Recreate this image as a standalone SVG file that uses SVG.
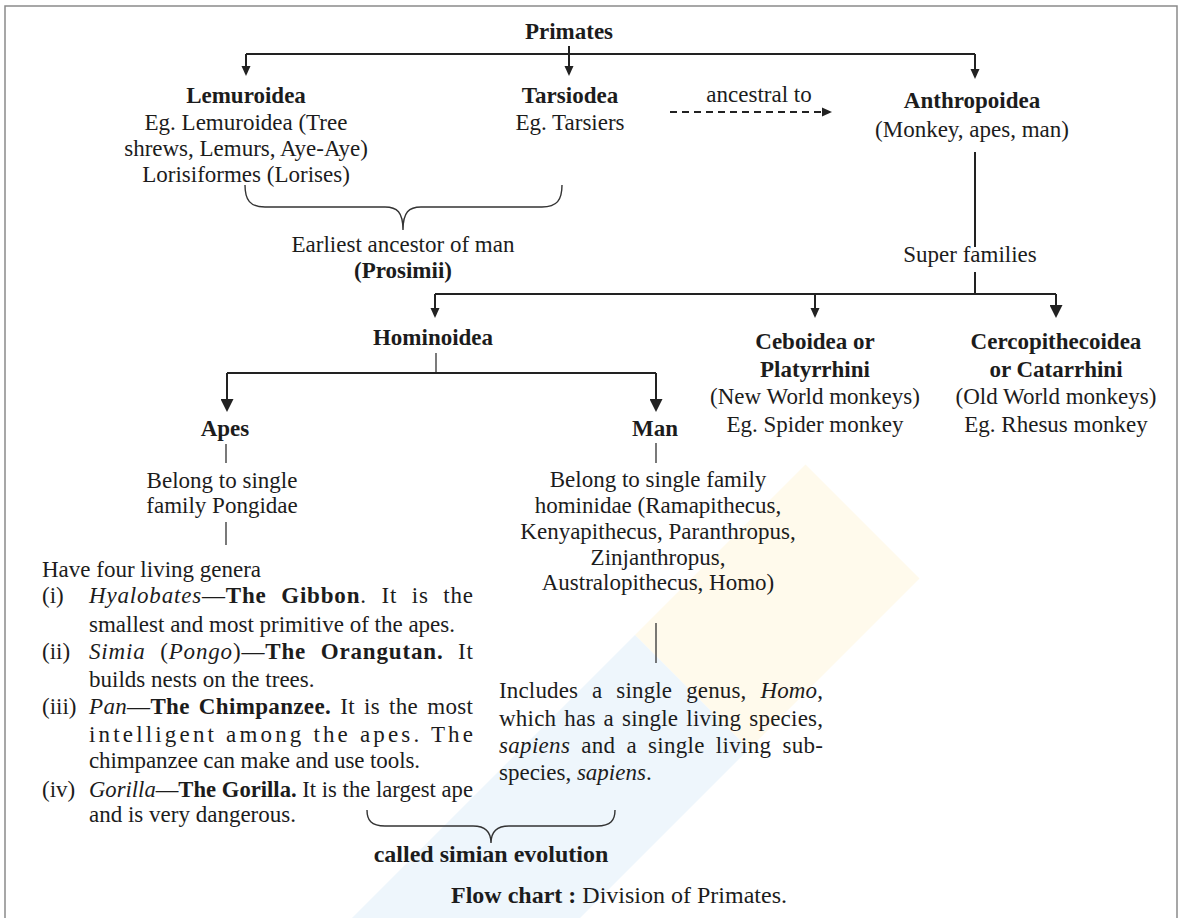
<svg xmlns="http://www.w3.org/2000/svg" width="1180" height="918" viewBox="0 0 1180 918">
<style>
.t{font-family:"Liberation Serif","Times New Roman",serif;font-size:23px;fill:#1c1c1c}
.big{font-family:"Liberation Serif","Times New Roman",serif;font-size:24px;fill:#1c1c1c}
.b{font-weight:bold}
.i{font-style:italic}
.c{text-anchor:middle}
.ln{stroke:#222;stroke-width:2;fill:none}
.thin{stroke:#333;stroke-width:1.3;fill:none}
.br{stroke:#333;stroke-width:1.4;fill:none}
</style>
<defs>
<marker id="a" markerUnits="userSpaceOnUse" markerWidth="10" markerHeight="10" viewBox="0 0 10 10" refX="8" refY="5" orient="auto"><path d="M0,0.5 L10,5 L0,9.5 z" fill="#222"/></marker>
<marker id="A" markerUnits="userSpaceOnUse" markerWidth="13" markerHeight="13" viewBox="0 0 13 13" refX="11" refY="6.5" orient="auto"><path d="M0,0 L13,6.5 L0,13 z" fill="#222"/></marker>
</defs>
<rect width="1180" height="918" fill="#fff"/>
<g id="watermark">
<polygon points="805.5,464.5 919.5,578.5 749,749 635,635" fill="#fffaec"/>
<polygon points="635,635 749,749 399,1099 285,985" fill="#eef6fc"/>
</g>
<path d="M5,930 V6 H1177 V930" fill="none" stroke="#8a8a8a" stroke-width="1.5"/>

<g id="connectors">
<path class="ln" d="M246,54 H975"/>
<path class="ln" d="M246,54 V74" marker-end="url(#a)"/>
<path class="ln" d="M569,46 V74" marker-end="url(#a)"/>
<path class="ln" d="M975,54 V77" marker-end="url(#a)"/>
<path class="ln" d="M670,112 H830" stroke-dasharray="7,5" marker-end="url(#a)"/>
<path class="ln" d="M975,152 V247 M975,272 V294"/>
<path class="ln" d="M435,294 H1056"/>
<path class="ln" d="M435,294 V316" marker-end="url(#a)"/>
<path class="ln" d="M815,294 V316" marker-end="url(#a)"/>
<path class="ln" d="M1056,294 V316" stroke-width="3" marker-end="url(#A)"/>
<path class="thin" d="M436,353 V373"/>
<path class="ln" d="M227,373 H656"/>
<path class="ln" d="M227,373 V410" marker-end="url(#A)"/>
<path class="ln" d="M656,373 V410" marker-end="url(#A)"/>
<path class="thin" d="M226,444 V463 M226,522 V545"/>
<path class="thin" d="M656,443 V463 M656,623 V663"/>
<path class="br" d="M245,185 C245,200 250,207 265,207 L385,207 C397,207 403,212 403,230 C403,212 409,207 421,207 L542,207 C557,207 562,200 562,185"/>
<path class="br" d="M367,810 C367,820 371,826 385,826 L473,826 C485,826 491,831 491,843 C491,831 497,826 509,826 L597,826 C611,826 615,820 615,810"/>
</g>

<g id="primates"><text class="t b c" x="569" y="39">Primates</text></g>

<g id="lemuroidea">
<text class="t b c" x="246" y="103">Lemuroidea</text>
<text class="t c" x="246" y="130">Eg. Lemuroidea (Tree</text>
<text class="t c" x="246" y="156">shrews, Lemurs, Aye-Aye)</text>
<text class="t c" x="246" y="182">Lorisiformes (Lorises)</text>
</g>

<g id="tarsiodea">
<text class="t b c" x="570" y="103">Tarsiodea</text>
<text class="t c" x="570" y="130">Eg. Tarsiers</text>
</g>

<g id="ancestral"><text class="t c" x="759" y="102">ancestral to</text></g>

<g id="anthropoidea">
<text class="t b c" x="972" y="108">Anthropoidea</text>
<text class="t c" x="972" y="137">(Monkey, apes, man)</text>
</g>

<g id="prosimii">
<text class="t c" x="403" y="252">Earliest ancestor of man</text>
<text class="t b c" x="403" y="278">(Prosimii)</text>
</g>

<g id="superfamilies"><text class="t c" x="970" y="262">Super families</text></g>

<g id="hominoidea"><text class="t b c" x="433" y="345">Hominoidea</text></g>

<g id="ceboidea">
<text class="t b c" x="815" y="349">Ceboidea or</text>
<text class="t b c" x="815" y="377">Platyrrhini</text>
<text class="t c" x="815" y="404">(New World monkeys)</text>
<text class="t c" x="815" y="432">Eg. Spider monkey</text>
</g>

<g id="cercopithecoidea">
<text class="t b c" x="1056" y="349">Cercopithecoidea</text>
<text class="t b c" x="1056" y="377">or Catarrhini</text>
<text class="t c" x="1056" y="404">(Old World monkeys)</text>
<text class="t c" x="1056" y="432">Eg. Rhesus monkey</text>
</g>

<g id="apes">
<text class="t b c" x="225" y="436">Apes</text>
<text class="t c" x="222" y="488">Belong to single</text>
<text class="t c" x="222" y="513">family Pongidae</text>
</g>

<g id="genera">
<text class="t" x="42" y="577">Have four living genera</text>
<text class="t" x="42" y="603">(i)</text>
<text class="t" x="89" y="603" word-spacing="8" textLength="384" lengthAdjust="spacing"><tspan class="i">Hyalobates</tspan>—<tspan class="b">The Gibbon</tspan>. It is the</text>
<text class="t" x="89" y="632">smallest and most primitive of the apes.</text>
<text class="t" x="42" y="659">(ii)</text>
<text class="t" x="89" y="659" word-spacing="8" textLength="384" lengthAdjust="spacing"><tspan class="i">Simia</tspan> (<tspan class="i">Pongo</tspan>)—<tspan class="b">The Orangutan.</tspan> It</text>
<text class="t" x="89" y="687">builds nests on the trees.</text>
<text class="t" x="42" y="714">(iii)</text>
<text class="t" x="89" y="714" word-spacing="3" textLength="384" lengthAdjust="spacing"><tspan class="i">Pan</tspan>—<tspan class="b">The Chimpanzee.</tspan> It is the most</text>
<text class="t" x="89" y="742" textLength="384" lengthAdjust="spacing">intelligent among the apes. The</text>
<text class="t" x="89" y="768" textLength="331" lengthAdjust="spacing">chimpanzee can make and use tools.</text>
<text class="t" x="42" y="797">(iv)</text>
<text class="t" x="89" y="797" textLength="384" lengthAdjust="spacingAndGlyphs"><tspan class="i">Gorilla</tspan>—<tspan class="b">The Gorilla.</tspan> It is the largest ape</text>
<text class="t" x="89" y="822">and is very dangerous.</text>
</g>

<g id="man">
<text class="t b c" x="655" y="436">Man</text>
<text class="t c" x="658" y="487">Belong to single family</text>
<text class="t c" x="658" y="513">hominidae (Ramapithecus,</text>
<text class="t c" x="658" y="539">Kenyapithecus, Paranthropus,</text>
<text class="t c" x="658" y="565">Zinjanthropus,</text>
<text class="t c" x="658" y="590">Australopithecus, Homo)</text>
</g>

<g id="homo">
<text class="t" x="499" y="698" word-spacing="8" textLength="324" lengthAdjust="spacing">Includes a single genus, <tspan class="i">Homo</tspan>,</text>
<text class="t" x="499" y="726" word-spacing="2" textLength="324" lengthAdjust="spacing">which has a single living species,</text>
<text class="t" x="499" y="753" word-spacing="5" textLength="324" lengthAdjust="spacing"><tspan class="i">sapiens</tspan> and a single living sub-</text>
<text class="t" x="499" y="780">species, <tspan class="i">sapiens</tspan>.</text>
</g>

<g id="simian"><text class="big b c" x="491" y="862">called simian evolution</text></g>

<g id="caption"><text class="big c" x="619" y="903"><tspan class="b">Flow chart :</tspan> Division of Primates.</text></g>
</svg>
